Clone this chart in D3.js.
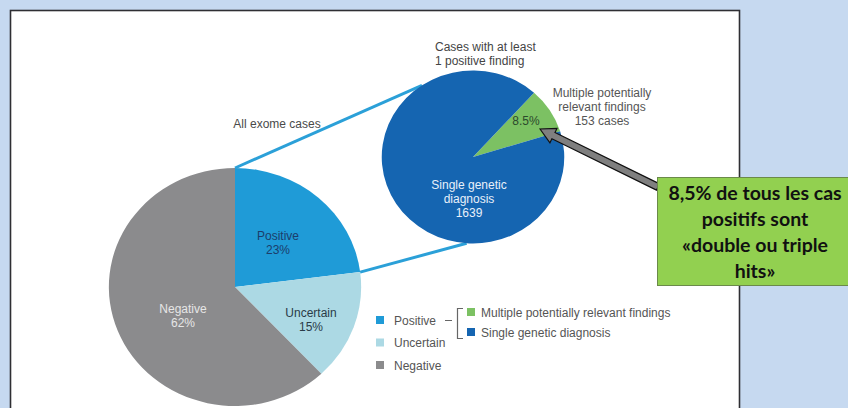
<!DOCTYPE html>
<html><head><meta charset="utf-8">
<script src="https://cdn.jsdelivr.net/npm/d3@7"></script>
<style>
html,body{margin:0;padding:0;background:#c6d9f0;}
svg{display:block;}
</style></head>
<body>
<svg id="chart" width="848" height="408"></svg>
<script>
// ---- data ----
const mainCategories = ["Positive", "Uncertain", "Negative"];
const mainValues = [23, 15, 62];
const mainLabels = ["23%", "15%", "62%"];
const subCategories = ["Multiple potentially relevant findings", "Single genetic diagnosis"];
const subValues = [153, 1639];
const calloutLines = ["8,5% de tous les cas", "positifs sont", "«double ou triple", "hits»"];

const colors = {
  Positive: "#1f9bd7", Uncertain: "#acd9e4", Negative: "#8b8b8d",
  "Multiple potentially relevant findings": "#7cc163",
  "Single genetic diagnosis": "#1565b1"
};

const svg = d3.select("#chart");
const font = "'Liberation Sans', Arial, Helvetica, sans-serif";

// panel
svg.append("rect").attr("x", 10.5).attr("y", 10.5).attr("width", 729).attr("height", 420)
  .attr("fill", "#fff").attr("stroke", "#2f2f33").attr("stroke-width", 1.6);

// ---- main pie ----
const big = {cx: 235, cy: 287, r: 119, sx: 1.06};
const small = {cx: 473, cy: 157, r: 86.5, sx: 1.055};
const deg = Math.PI / 180;

const pieMain = d3.pie().sort(null).value(d => d.v);
const mainData = pieMain(mainCategories.map((c, i) => ({c, v: mainValues[i], l: mainLabels[i]})));
const arcBig = d3.arc().innerRadius(0).outerRadius(big.r);

const gBig = svg.append("g").attr("transform", `translate(${big.cx},${big.cy}) scale(${big.sx},1)`);
gBig.selectAll("path").data(mainData).join("path")
  .attr("d", arcBig).attr("fill", d => colors[d.data.c]);

// ---- sub pie ----
const subStart = 42 * deg;
const pieSub = d3.pie().sort(null).value(d => d.v).startAngle(subStart).endAngle(subStart + 2 * Math.PI);
const subData = pieSub(subCategories.map((c, i) => ({c, v: subValues[i]})));
const arcSmall = d3.arc().innerRadius(0).outerRadius(small.r);

// connector lines (from pie geometry)
function pt(p, a) { return [p.cx + p.sx * p.r * Math.sin(a), p.cy - p.r * Math.cos(a)]; }
const posEnd = mainData[0].endAngle;
const conn = [[pt(big, 0), pt(small, -34 * deg)], [pt(big, posEnd), pt(small, 184 * deg)]];
svg.selectAll("line.conn").data(conn).join("line").attr("class", "conn")
  .attr("x1", d => d[0][0]).attr("y1", d => d[0][1]).attr("x2", d => d[1][0]).attr("y2", d => d[1][1])
  .attr("stroke", "#2ba0d8").attr("stroke-width", 3);

const gSmall = svg.append("g").attr("transform", `translate(${small.cx},${small.cy}) scale(${small.sx},1)`);
gSmall.selectAll("path").data(subData).join("path")
  .attr("d", arcSmall).attr("fill", d => colors[d.data.c]);

// ---- text labels ----
function label(x, y, lines, color, anchor = "middle", lh = 14) {
  const t = svg.append("text").attr("x", x).attr("y", y).attr("text-anchor", anchor)
    .attr("font-family", font).attr("font-size", 12).attr("fill", color);
  lines.forEach((s, i) => t.append("tspan").attr("x", x).attr("dy", i ? lh : 0).text(s));
}
label(277, 128, ["All exome cases"], "#4a4a4a");
label(435, 51, ["Cases with at least", "1 positive finding"], "#444", "start");
label(602, 97, ["Multiple potentially", "relevant findings", subValues[0] + " cases"], "#555");
const pct = (subValues[0] / d3.sum(subValues) * 100).toFixed(1) + "%";
label(526, 125, [pct], "#2c4a2c");
label(469, 189, ["Single genetic", "diagnosis", String(subValues[1])], "#e8f0fa");

const mainLabelPos = {Positive: [278, 240, "#1c3d6b"], Uncertain: [311, 317, "#2a3b48"], Negative: [183, 313, "#e6e6e6"]};
mainData.forEach(d => {
  const p = mainLabelPos[d.data.c];
  label(p[0], p[1], [d.data.c, d.data.l], p[2]);
});

// ---- legend ----
const lg = svg.append("g");
mainCategories.forEach((c, i) => {
  const y = 320 + i * 22.5;
  lg.append("rect").attr("x", 376).attr("y", y - 4).attr("width", 8).attr("height", 8).attr("fill", colors[c]);
  lg.append("text").attr("x", 394).attr("y", y + 4.5).attr("font-family", font).attr("font-size", 12)
    .attr("fill", "#555").text(c);
});
lg.append("path").attr("d", "M445,320.5H452 M463,308.5H457.5V338.5H463")
  .attr("fill", "none").attr("stroke", "#666").attr("stroke-width", 1.2);
subCategories.forEach((c, i) => {
  const y = 312 + i * 20;
  lg.append("rect").attr("x", 467).attr("y", y - 4).attr("width", 8).attr("height", 8).attr("fill", colors[c]);
  lg.append("text").attr("x", 481).attr("y", y + 4.5).attr("font-family", font).attr("font-size", 12)
    .attr("fill", "#555").text(c);
});

// ---- callout arrow ----
(function () {
  const tip = [540, 129], tail = [658, 187];
  const dx = tail[0] - tip[0], dy = tail[1] - tip[1];
  const L = Math.hypot(dx, dy);
  const ux = dx / L, uy = dy / L, nx = -uy, ny = ux;
  const hw = 3.5, hl = 15, hh = 8;
  const P = (a, b) => [tip[0] + ux * a + nx * b, tip[1] + uy * a + ny * b];
  const pts = [P(0, 0), P(hl, hh), P(hl, hw), P(L, hw), P(L, -hw), P(hl, -hw), P(hl, -hh)];
  svg.append("path").attr("d", "M" + pts.map(p => p.join(",")).join("L") + "Z")
    .attr("fill", "#7f7f7f").attr("stroke", "#111").attr("stroke-width", 1.2);
})();

// ---- callout box ----
svg.append("rect").attr("x", 657.5).attr("y", 177.5).attr("width", 200).attr("height", 108)
  .attr("fill", "#92d050").attr("stroke", "#6b8a4a").attr("stroke-width", 1);
const ct = svg.append("text").attr("text-anchor", "middle").attr("font-family", "Lato, 'Open Sans', sans-serif")
  .attr("font-weight", "bold").attr("font-size", 19.5).attr("fill", "#111");
calloutLines.forEach((s, i) => ct.append("tspan").attr("x", 755).attr("y", 200 + i * 26).text(s));
</script>
</body></html>
